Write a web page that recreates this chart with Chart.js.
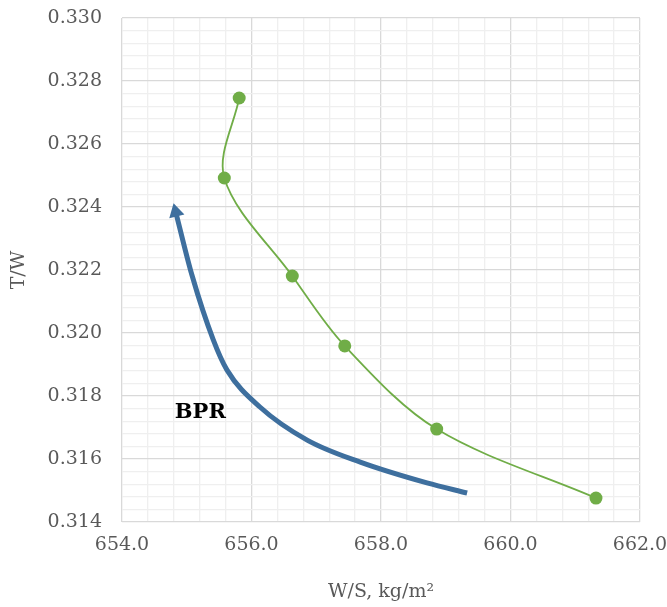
<!DOCTYPE html>
<html>
<head>
<meta charset="utf-8">
<script src="https://cdn.jsdelivr.net/npm/chart.js@4/dist/chart.umd.min.js"></script>
<style>
  html, body { margin: 0; padding: 0; background: #fff; }
  #wrap { width: 667px; height: 607px; }
</style>
</head>
<body>
<div id="wrap"><canvas id="c" width="667" height="607"></canvas></div>
<script>
// T/W vs W/S sweep, with BPR trend arrow

const FONT = "'DejaVu Serif', 'Liberation Serif', serif";

// green series (W/S, T/W)
const wsPoints = [655.81, 655.58, 656.63, 657.44, 658.86, 661.32];
const twPoints = [0.32746, 0.32492, 0.32181, 0.31959, 0.31695, 0.31476];

// BPR arrow path, tail -> head
const wsArrow = [659.33, 658.71, 657.68, 656.86, 656.13, 655.62, 655.41, 655.08, 654.83];
const twArrow = [0.31492, 0.31524, 0.31590, 0.31660, 0.31765, 0.31883, 0.31978, 0.32184, 0.32384];

const arrowLabel = 'BPR';
const arrowLabelAt = [655.21, 0.31746];

const C = {
  green: '#70ad47',
  blue:  '#3e6f9e',
  major: '#d9d9d9',
  minor: '#efefef',
  text:  '#595959'
};

function isMajor(v, step) {
  return Math.abs(Math.round(v / step) * step - v) < step * 1e-4;
}

const labelPlugin = {
  id: 'bprLabel',
  afterDatasetsDraw(chart) {
    const { ctx, scales } = chart;
    ctx.save();
    ctx.font = 'bold 21px ' + FONT;
    ctx.fillStyle = '#000';
    ctx.textAlign = 'center';
    ctx.textBaseline = 'middle';
    ctx.fillText(arrowLabel, scales.x.getPixelForValue(arrowLabelAt[0]), scales.y.getPixelForValue(arrowLabelAt[1]));
    ctx.restore();
  }
};

const n = wsArrow.length;

new Chart(document.getElementById('c'), {
  type: 'scatter',
  data: {
    datasets: [
      {
        data: wsPoints.map((x, i) => ({ x, y: twPoints[i] })),
        showLine: true,
        tension: 0.33,
        borderColor: C.green,
        borderWidth: 1.8,
        backgroundColor: C.green,
        pointRadius: 6.5,
        pointBorderWidth: 0
      },
      {
        data: wsArrow.map((x, i) => ({ x, y: twArrow[i] })),
        showLine: true,
        cubicInterpolationMode: 'monotone',
        borderColor: C.blue,
        borderWidth: 5,
        backgroundColor: C.blue,
        pointStyle: 'triangle',
        pointRadius: wsArrow.map((_, i) => (i === n - 1 ? 9 : 0)),
        pointRotation: -14,
        pointBorderWidth: 0
      }
    ]
  },
  options: {
    responsive: false,
    animation: false,
    layout: { padding: { left: 0, right: 27, top: 18, bottom: 0 } },
    plugins: { legend: { display: false }, tooltip: { enabled: false } },
    scales: {
      x: {
        min: 654, max: 662,
        afterFit: s => { s.height = 85; s.paddingLeft = 0; s.paddingRight = 0; },
        border: { display: false },
        grid: {
          drawTicks: false,
          color: c => (isMajor(c.tick.value, 2) ? C.major : C.minor),
          lineWidth: 1.3
        },
        ticks: {
          stepSize: 0.4,
          autoSkip: false,
          maxRotation: 0,
          padding: 12,
          color: C.text,
          font: { family: FONT, size: 19 },
          callback: v => (isMajor(v, 2) ? v.toFixed(1) : '')
        },
        title: {
          display: true,
          text: 'W/S, kg/m²',
          color: C.text,
          font: { family: FONT, size: 19 },
          padding: { top: 4, bottom: 4 }
        }
      },
      y: {
        min: 0.314, max: 0.330,
        afterFit: s => { s.width = 122; s.paddingTop = 0; s.paddingBottom = 0; },
        border: { display: false },
        grid: {
          drawTicks: false,
          color: c => (isMajor(c.tick.value, 0.002) ? C.major : C.minor),
          lineWidth: 1.3
        },
        ticks: {
          stepSize: 0.0004,
          autoSkip: false,
          padding: 20,
          color: C.text,
          font: { family: FONT, size: 19 },
          callback: v => (isMajor(v, 0.002) ? v.toFixed(3) : '')
        },
        title: {
          display: true,
          text: 'T/W',
          color: C.text,
          font: { family: FONT, size: 19 },
          padding: { top: 8, bottom: 4 }
        }
      }
    }
  },
  plugins: [labelPlugin]
});
</script>
</body>
</html>
